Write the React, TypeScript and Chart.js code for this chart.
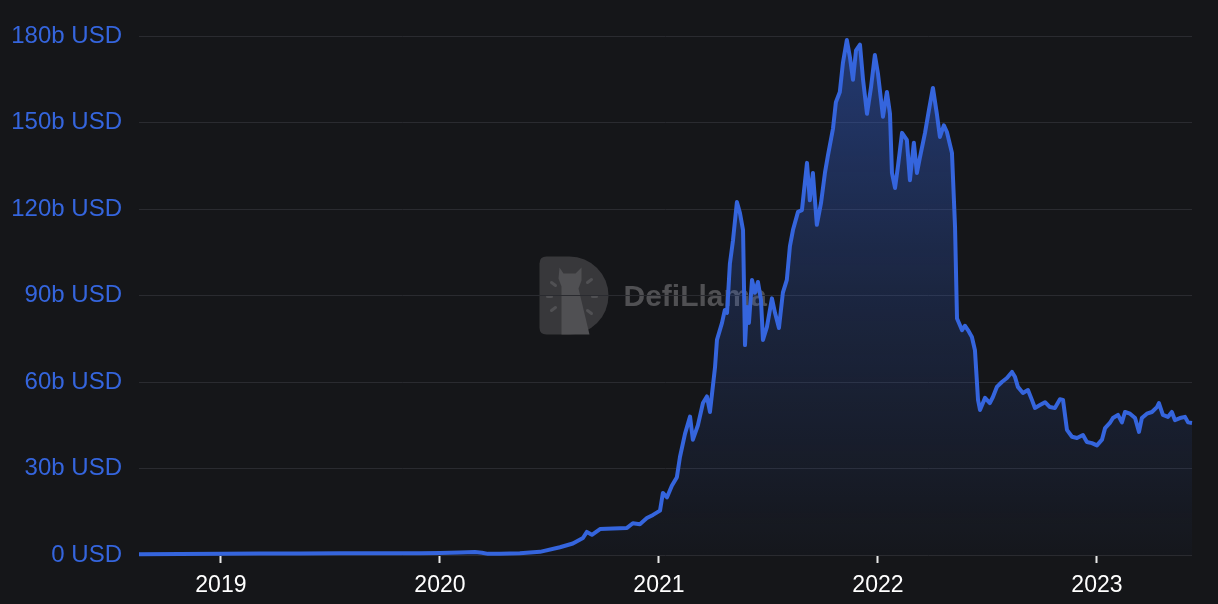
import React, { useEffect, useRef } from "react";
import { Chart, registerables } from "chart.js";

Chart.register(...registerables);

// Time (decimal years) and Total Value Locked (billions USD)
const times: number[] = [
  2018.626, 2018.813, 2019.0, 2019.178, 2019.361, 2019.543, 2019.726, 2019.909, 2020.0, 2020.091,
  2020.16, 2020.192, 2020.219, 2020.274, 2020.365, 2020.457, 2020.548, 2020.607, 2020.653, 2020.671,
  2020.694, 2020.731, 2020.79, 2020.854, 2020.881, 2020.913, 2020.945, 2020.973, 2021.005, 2021.018,
  2021.037, 2021.059, 2021.082, 2021.096, 2021.119, 2021.142, 2021.155, 2021.178, 2021.201, 2021.219,
  2021.233, 2021.256, 2021.265, 2021.288, 2021.301, 2021.311, 2021.324, 2021.338, 2021.356, 2021.37,
  2021.384, 2021.393, 2021.402, 2021.411, 2021.425, 2021.438, 2021.452, 2021.466, 2021.475, 2021.493,
  2021.516, 2021.53, 2021.548, 2021.566, 2021.584, 2021.598, 2021.612, 2021.635, 2021.653, 2021.676,
  2021.689, 2021.703, 2021.721, 2021.74, 2021.758, 2021.772, 2021.795, 2021.808, 2021.826, 2021.84,
  2021.858, 2021.872, 2021.886, 2021.9, 2021.918, 2021.932, 2021.95, 2021.968, 2021.986, 2022.0,
  2022.023, 2022.041, 2022.055, 2022.064, 2022.078, 2022.091, 2022.11, 2022.132, 2022.146, 2022.164,
  2022.178, 2022.192, 2022.215, 2022.233, 2022.251, 2022.269, 2022.283, 2022.301, 2022.315, 2022.338,
  2022.352, 2022.361, 2022.384, 2022.397, 2022.411, 2022.429, 2022.443, 2022.457, 2022.466, 2022.489,
  2022.511, 2022.525, 2022.543, 2022.566, 2022.589, 2022.612, 2022.626, 2022.639, 2022.662, 2022.685,
  2022.703, 2022.717, 2022.74, 2022.763, 2022.785, 2022.808, 2022.831, 2022.845, 2022.863, 2022.886,
  2022.909, 2022.936, 2022.954, 2022.977, 2023.0, 2023.023, 2023.037, 2023.059, 2023.073, 2023.096,
  2023.114, 2023.128, 2023.151, 2023.174, 2023.192, 2023.205, 2023.228, 2023.251, 2023.274, 2023.283,
  2023.301, 2023.324, 2023.342, 2023.356, 2023.379, 2023.402, 2023.416, 2023.434,
];

const tvl: number[] = [
  0.3, 0.35, 0.4, 0.5, 0.55, 0.6, 0.6, 0.65, 0.7, 0.9,
  1.0, 0.8, 0.4, 0.45, 0.6, 1.1, 2.7, 4.0, 5.9, 8.0,
  7.0, 9.0, 9.2, 9.4, 11.0, 10.7, 12.8, 13.9, 15.4, 21.5,
  20, 24, 27, 34, 42, 48, 40, 45, 52.7, 55,
  49.6, 65, 74.6, 80.5, 85, 84, 101, 109, 122.4, 118.6,
  112.7, 72.8, 86, 80.5, 95.4, 91, 94.7, 88.5, 74.6, 79,
  89, 84, 78.7, 91, 95.4, 107, 112.7, 119, 119.6, 136,
  123, 132.5, 114.5, 122, 132.5, 138.7, 148, 157, 160.6, 170.6,
  178.6, 172.7, 164.8, 175, 177, 164.8, 153, 162, 173.4, 167,
  152, 160.6, 153, 132.5, 127.3, 134.6, 146.4, 144, 130, 143,
  132.5, 138, 146.4, 154.4, 162, 153, 145, 149, 146.7, 139.4,
  113.8, 82, 78, 79.5, 78, 75.6, 71, 53.8, 50.3, 54.5,
  52.7, 54.8, 58.3, 60, 61.4, 63.5, 61.7, 58.3, 56.2, 57.2,
  53.8, 51, 52, 53, 51.3, 51, 54, 53.8, 43.4, 41,
  40.6, 41.6, 39.2, 38.8, 38, 40, 44, 45.8, 47.5, 48.6,
  46, 49.6, 49, 47.5, 42.7, 47.5, 49, 49.6, 51.3, 52.7,
  48.6, 47.9, 49.6, 46.8, 47.5, 47.9, 46, 45.8,
];

const yearTicks: number[] = [2019, 2020, 2021, 2022, 2023];
const yearLabels: string[] = ["2019", "2020", "2021", "2022", "2023"];
const yTickValues: number[] = [0, 30, 60, 90, 120, 150, 180];

const BG = "#151619";
const BLUE = "#3565dd";
const FONT = '"Liberation Sans", Arial, Helvetica, sans-serif';

const watermarkPlugin = {
  id: "watermark",
  beforeDraw(chart: any) {
    const { ctx, chartArea } = chart;
    if (!chartArea) return;
    const cx = (chartArea.left + chartArea.right) / 2;
    const cy = (chartArea.top + chartArea.bottom) / 2;
    ctx.save();
    // D-shaped logo
    const x0 = cx - 126;
    const y0 = cy - 39;
    const h = 78;
    const r = 39;
    const dcx = x0 + 30;
    const dcy = y0 + r;
    ctx.beginPath();
    ctx.moveTo(x0 + 7, y0);
    ctx.lineTo(dcx, y0);
    ctx.arc(dcx, dcy, r, -Math.PI / 2, Math.PI / 2);
    ctx.lineTo(x0 + 7, y0 + h);
    ctx.quadraticCurveTo(x0, y0 + h, x0, y0 + h - 7);
    ctx.lineTo(x0, y0 + 7);
    ctx.quadraticCurveTo(x0, y0, x0 + 7, y0);
    ctx.closePath();
    ctx.fillStyle = "#38383b";
    ctx.fill();
    // llama silhouette
    ctx.fillStyle = "#505053";
    ctx.beginPath();
    ctx.moveTo(dcx - 8, y0 + h);
    ctx.lineTo(dcx - 8, y0 + 30);
    ctx.lineTo(dcx - 11, y0 + 22);
    ctx.lineTo(dcx - 10, y0 + 11);
    ctx.lineTo(dcx - 6, y0 + 17);
    ctx.lineTo(dcx + 6, y0 + 17);
    ctx.lineTo(dcx + 12, y0 + 11);
    ctx.lineTo(dcx + 12, y0 + 24);
    ctx.lineTo(dcx + 9, y0 + 32);
    ctx.lineTo(dcx + 20, y0 + h);
    ctx.closePath();
    ctx.fill();
    // rays
    ctx.strokeStyle = "#505053";
    ctx.lineWidth = 3;
    ctx.lineCap = "round";
    const rays: [number, number, number, number][] = [
      [-18, -13, -14, -10],
      [-22, 1, -18, 1],
      [-18, 15, -14, 12],
      [18, -13, 22, -16],
      [23, 1, 27, 1],
      [18, 15, 22, 18],
    ];
    for (const [a, b, c, d] of rays) {
      ctx.beginPath();
      ctx.moveTo(dcx + a, dcy + b);
      ctx.lineTo(dcx + c, dcy + d);
      ctx.stroke();
    }
    // text
    ctx.fillStyle = "#505053";
    ctx.font = `bold 30px ${FONT}`;
    ctx.textAlign = "left";
    ctx.textBaseline = "middle";
    ctx.fillText("DefiLlama", cx - 42, cy + 2);
    ctx.restore();
  },
};

export default function App() {
  const canvasRef = useRef<HTMLCanvasElement | null>(null);

  useEffect(() => {
    if (!canvasRef.current) return;
    const chart = new Chart(canvasRef.current, {
      type: "line",
      data: {
        datasets: [
          {
            label: "TVL",
            data: times.map((t, i) => ({ x: t, y: tvl[i] })),
            borderColor: BLUE,
            borderWidth: 4,
            pointRadius: 0,
            tension: 0,
            borderJoinStyle: "round",
            fill: "origin",
            clip: 4,
            backgroundColor: (context: any) => {
              const { chart } = context;
              const { ctx, chartArea } = chart;
              if (!chartArea) return "rgba(53,101,221,0.2)";
              const g = ctx.createLinearGradient(0, chartArea.top, 0, chartArea.bottom);
              g.addColorStop(0, "rgba(53,101,221,0.45)");
              g.addColorStop(0.5, "rgba(53,101,221,0.2)");
              g.addColorStop(1, "rgba(53,101,221,0.02)");
              return g;
            },
          } as any,
        ],
      },
      options: {
        animation: false,
        responsive: false,
        maintainAspectRatio: false,
        layout: { padding: { left: 12, right: 26, top: 36, bottom: 0 } },
        plugins: {
          legend: { display: false },
          tooltip: { enabled: false },
        },
        scales: {
          x: {
            type: "linear",
            min: times[0],
            max: times[times.length - 1],
            afterBuildTicks: (axis: any) => {
              axis.ticks = yearTicks.map((v) => ({ value: v }));
            },
            afterFit: (axis: any) => {
              axis.height = 49;
            },
            ticks: {
              color: "#ffffff",
              font: { family: FONT, size: 23 },
              padding: 9,
              maxRotation: 0,
              autoSkip: false,
              callback: (value: any) => {
                const i = yearTicks.indexOf(Number(value));
                return i >= 0 ? yearLabels[i] : "";
              },
            },
            grid: {
              drawOnChartArea: false,
              drawTicks: true,
              tickLength: 8,
              tickColor: "#e8e8e8",
              tickWidth: 2,
              color: "transparent",
            },
            border: { display: false },
          },
          y: {
            type: "linear",
            min: 0,
            max: 180,
            afterBuildTicks: (axis: any) => {
              axis.ticks = yTickValues.map((v) => ({ value: v }));
            },
            afterFit: (axis: any) => {
              axis.width = 127;
            },
            ticks: {
              color: BLUE,
              font: { family: FONT, size: 24 },
              padding: 17,
              callback: (value: any) => (Number(value) === 0 ? "0 USD" : `${value}b USD`),
            },
            grid: {
              color: "#2a2b30",
              lineWidth: 1,
              drawTicks: false,
            },
            border: { display: false },
          },
        },
      } as any,
      plugins: [watermarkPlugin],
    });
    return () => chart.destroy();
  }, []);

  return (
    <div
      style={{
        position: "fixed",
        left: 0,
        top: 0,
        width: 1218,
        height: 604,
        background: BG,
      }}
    >
      <canvas ref={canvasRef} width={1218} height={604} style={{ width: 1218, height: 604, display: "block" }} />
    </div>
  );
}
